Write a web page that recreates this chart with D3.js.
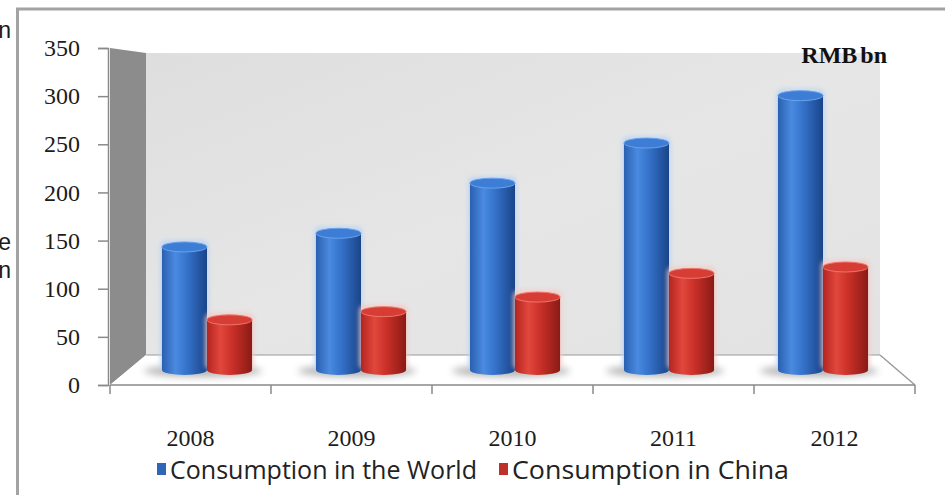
<!DOCTYPE html>
<html>
<head>
<meta charset="utf-8">
<script src="https://cdn.jsdelivr.net/npm/d3@7"></script>
<style>
  html, body { margin: 0; padding: 0; background: #fff; overflow: hidden; }
  svg { display: block; }
  svg text.serif { font-family: 'Liberation Serif', 'Times New Roman', serif !important; }
</style>
</head>
<body>
<script>
// ---- data ----
const years = ["2008", "2009", "2010", "2011", "2012"];
const seriesNames = ["Consumption in the World", "Consumption in China"];
const worldValues = [135, 150, 205, 249, 301];
const chinaValues = [55, 64, 80, 106, 113];
const yTickValues = [0, 50, 100, 150, 200, 250, 300, 350];
const unitLabel = "RMB bn";
// line endings of the surrounding paragraph that wraps next to the figure
const sideTextTails = [{ t: "n", y: 38 }, { t: "e", y: 250 }, { t: "n", y: 278 }];

const W = 945, H = 495;
const svg = d3.select("body").append("svg").attr("width", W).attr("height", H);
const defs = svg.append("defs");
const SERIF = "'Liberation Serif', 'Times New Roman', serif";

// ---- 3D box geometry: front, middle (bars) and back planes ----
const yMax = 350;
const yFront = d3.scaleLinear().domain([0, yMax]).range([385, 48]);
const yBack  = d3.scaleLinear().domain([0, yMax]).range([355, 53]);
const yMid   = d3.scaleLinear().domain([0, yMax]).range([370, 51]);
const xFront = d3.scaleBand().domain(years).range([110, 915]).padding(0);
const xBackRange = [146, 880];
const xMid = d3.scaleBand().domain(years).range([130, 900]).paddingInner(0.415).paddingOuter(0.2075);
const xSeries = d3.scaleBand().domain(seriesNames).range([0, xMid.bandwidth()]).padding(0);

// ---- gradients and filters ----
function hGrad(id, stops) {
  const g = defs.append("linearGradient").attr("id", id)
    .attr("x1", 0).attr("x2", 1).attr("y1", 0).attr("y2", 0);
  stops.forEach(s => g.append("stop").attr("offset", s[0]).attr("stop-color", s[1]));
}
hGrad("gBlue", [[0, "#2a60b0"], [0.3, "#4a8ae0"], [0.55, "#3573cb"], [1, "#1a4489"]]);
hGrad("gRed",  [[0, "#b32520"], [0.3, "#e2473d"], [0.55, "#cb3128"], [1, "#8a1a16"]]);
const wallGrad = defs.append("linearGradient").attr("id", "gWall")
  .attr("x1", 0).attr("x2", 1).attr("y1", 0).attr("y2", 1);
wallGrad.append("stop").attr("offset", 0).attr("stop-color", "#dedede");
wallGrad.append("stop").attr("offset", 0.5).attr("stop-color", "#e6e6e6");
wallGrad.append("stop").attr("offset", 1).attr("stop-color", "#e3e3e3");

defs.append("filter").attr("id", "blur2").attr("x", "-30%").attr("y", "-30%")
  .attr("width", "160%").attr("height", "160%")
  .append("feGaussianBlur").attr("stdDeviation", 2);
defs.append("filter").attr("id", "blur4").attr("x", "-50%").attr("y", "-100%")
  .attr("width", "200%").attr("height", "300%")
  .append("feGaussianBlur").attr("stdDeviation", 3.5);

const palette = {
  "Consumption in the World": { body: "url(#gBlue)", top: "#3d7dd5", rim: "#6aa3ec", glow: "#bcd4f2", mark: "#2f66b8", len: 307 },
  "Consumption in China":     { body: "url(#gRed)",  top: "#d63e35", rim: "#f0756b", glow: "#f3c9c5", mark: "#c0302a", len: 277 }
};

// ---- surrounding page text and frame ----
svg.selectAll("text.side").data(sideTextTails).join("text")
  .attr("class", "side")
  .attr("x", 11).attr("y", d => d.y)
  .attr("text-anchor", "end")
  .attr("font-family", "Liberation Sans, Arial, sans-serif")
  .attr("font-size", 23).attr("fill", "#1a1a1a")
  .text(d => d.t);

svg.append("rect").attr("x", 17.5).attr("y", 9).attr("width", W).attr("height", H)
  .attr("fill", "#fff").attr("stroke", "#a3a3a3").attr("stroke-width", 3);

// ---- walls and floor ----
const x0F = xFront.range()[0], x1F = xFront.range()[1];
svg.append("rect")
  .attr("x", xBackRange[0]).attr("y", yBack(yMax))
  .attr("width", xBackRange[1] - xBackRange[0]).attr("height", yBack(0) - yBack(yMax))
  .attr("fill", "url(#gWall)");
svg.append("polygon")
  .attr("points", [[x0F, yFront(yMax)], [xBackRange[0], yBack(yMax)], [xBackRange[0], yBack(0)], [x0F, yFront(0)]].join(" "))
  .attr("fill", "#8c8c8c");
svg.append("polygon")
  .attr("points", [[x0F, yFront(0)], [xBackRange[0], yBack(0)], [xBackRange[1], yBack(0)], [x1F, yFront(0)]].join(" "))
  .attr("fill", "#ffffff");
svg.append("line")
  .attr("x1", xBackRange[0]).attr("x2", xBackRange[1]).attr("y1", yBack(0)).attr("y2", yBack(0))
  .attr("stroke", "#9a9a9a").attr("stroke-width", 1.2);
svg.append("line")
  .attr("x1", xBackRange[1]).attr("y1", yBack(0)).attr("x2", x1F).attr("y2", yFront(0))
  .attr("stroke", "#9a9a9a").attr("stroke-width", 1.5);
svg.append("line")
  .attr("x1", x0F).attr("y1", yFront(0)).attr("x2", x1F).attr("y2", yFront(0))
  .attr("stroke", "#8a8a8a").attr("stroke-width", 1.5);

// ---- y axis ----
const yAxis = svg.append("g").attr("transform", "translate(108,0)")
  .call(d3.axisLeft(yFront).tickValues(yTickValues).tickSize(10).tickPadding(18));
yAxis.attr("font-family", null).attr("font-size", null);
yAxis.select(".domain").attr("stroke", "#8a8a8a").attr("stroke-width", 1.5);
yAxis.selectAll(".tick line").attr("stroke", "#8a8a8a").attr("stroke-width", 1.5);
yAxis.selectAll(".tick text").attr("class", "serif")
  .style("font-family", SERIF).style("font-size", "24px").attr("fill", "#1c1c1c");

// ---- x axis ----
const xAxis = svg.append("g").attr("transform", `translate(0,${yFront(0)})`)
  .call(d3.axisBottom(xFront).tickSize(0).tickPadding(44));
xAxis.attr("font-family", null).attr("font-size", null);
xAxis.select(".domain").remove();
xAxis.selectAll(".tick text").attr("class", "serif")
  .style("font-family", SERIF).style("font-size", "24px").attr("fill", "#1c1c1c");
const bounds = years.map(d => xFront(d)).concat([x1F]);
svg.append("g").selectAll("line").data(bounds).join("line")
  .attr("x1", d => d).attr("x2", d => d)
  .attr("y1", yFront(0)).attr("y2", yFront(0) + 9)
  .attr("stroke", "#8a8a8a").attr("stroke-width", 1.5);

// ---- cylinders ----
const rows = years.map((y, i) => ({
  year: y,
  vals: [{ s: seriesNames[0], v: worldValues[i] }, { s: seriesNames[1], v: chinaValues[i] }]
}));
const ry = 5;

const groups = svg.append("g").selectAll("g").data(rows).join("g")
  .attr("transform", d => `translate(${xMid(d.year)},0)`);

// floor shadow under each pair
groups.append("ellipse")
  .attr("cx", xMid.bandwidth() / 2 - 4).attr("cy", yMid(0) + 1)
  .attr("rx", xMid.bandwidth() / 2 + 14).attr("ry", 6)
  .attr("fill", "#7a7a7a").attr("opacity", 0.55).attr("filter", "url(#blur4)");

const bars = groups.selectAll("g.bar").data(d => d.vals).join("g").attr("class", "bar")
  .attr("transform", d => `translate(${xSeries(d.s)},0)`);
const bw = xSeries.bandwidth();

// soft halo
bars.append("rect")
  .attr("x", -2).attr("width", bw + 4)
  .attr("y", d => yMid(d.v) - ry - 2).attr("height", d => yMid(0) - yMid(d.v) + ry + 2)
  .attr("rx", 6)
  .attr("fill", d => palette[d.s].glow).attr("opacity", 0.8).attr("filter", "url(#blur2)");
// body
bars.append("rect")
  .attr("x", 0).attr("width", bw)
  .attr("y", d => yMid(d.v)).attr("height", d => yMid(0) - yMid(d.v))
  .attr("fill", d => palette[d.s].body);
bars.append("ellipse")
  .attr("cx", bw / 2).attr("cy", yMid(0)).attr("rx", bw / 2).attr("ry", ry)
  .attr("fill", d => palette[d.s].body);
// top face
bars.append("ellipse")
  .attr("cx", bw / 2).attr("cy", d => yMid(d.v)).attr("rx", bw / 2).attr("ry", ry)
  .attr("fill", d => palette[d.s].top)
  .attr("stroke", d => palette[d.s].rim).attr("stroke-width", 1);

// ---- unit label ----
svg.append("text").attr("x", 887).attr("y", 63).attr("text-anchor", "end")
  .attr("class", "serif")
  .style("font-family", SERIF).style("font-weight", "bold").style("font-size", "24px")
  .style("word-spacing", "-3px").attr("fill", "#111")
  .text(unitLabel);

// ---- legend ----
const legendItems = [{ s: seriesNames[0], x: 157 }, { s: seriesNames[1], x: 499 }];
const lg = svg.append("g").selectAll("g").data(legendItems).join("g")
  .attr("transform", d => `translate(${d.x},0)`);
lg.append("rect").attr("x", 0).attr("y", 463).attr("width", 9).attr("height", 12)
  .attr("fill", d => palette[d.s].mark);
lg.append("text").attr("x", 13).attr("y", 479)
  .attr("font-family", "Open Sans, Liberation Sans, Arial, sans-serif")
  .attr("font-size", 25).attr("fill", "#222")
  .attr("textLength", d => palette[d.s].len).attr("lengthAdjust", "spacingAndGlyphs")
  .text(d => d.s);
</script>
</body>
</html>
